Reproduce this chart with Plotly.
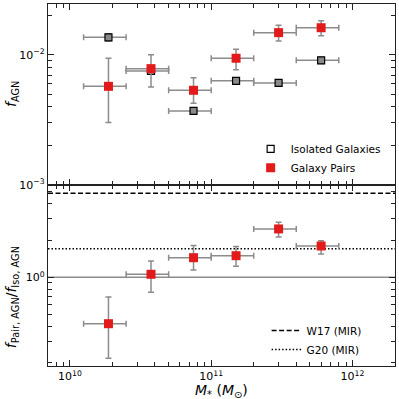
import plotly.graph_objects as go
from plotly.subplots import make_subplots

# stellar mass bins (edges) and centres
bin_lo = [1.25e10, 2.5e10, 5e10, 1e11, 2e11, 4e11]
bin_hi = [2.5e10, 5e10, 1e11, 2e11, 4e11, 8e11]
mass = [1.875e10, 3.75e10, 7.5e10, 1.5e11, 3e11, 6e11]

# AGN fractions
f_iso = [0.01368, 0.00753, 0.00371, 0.00633, 0.0061, 0.0091]
f_iso_err = [0.0009, 0.0004, 0.00015, 0.0003, 0.0003, 0.0005]
f_pair = [0.00574, 0.00785, 0.00535, 0.00944, 0.01485, 0.0162]
f_pair_hi = [0.00944, 0.01005, 0.00668, 0.01107, 0.0169, 0.01836]
f_pair_lo = [0.00303, 0.00567, 0.00425, 0.0077, 0.01282, 0.01407]

# enhancement ratio
ratio = [0.418, 1.058, 1.445, 1.50, 2.48, 1.80]
ratio_hi = [0.69, 1.36, 1.82, 1.78, 2.81, 1.99]
ratio_lo = [0.218, 0.755, 1.147, 1.23, 2.13, 1.55]

# literature values
w17 = 4.85
g20 = 1.71

x_min, x_max = 7e9, 2e12
x_ticks = [1e10, 1e11, 1e12]
x_ticktext = ["10<sup>10</sup>", "10<sup>11</sup>", "10<sup>12</sup>"]
top_ticks = [1e-3, 1e-2]
top_ticktext = ["10<sup>−3</sup>", "10<sup>−2</sup>"]
bot_ticks = [1]
bot_ticktext = ["10<sup>0</sup>"]

xerr_m = [c - lo for c, lo in zip(mass, bin_lo)]
xerr_p = [hi - c for c, hi in zip(mass, bin_hi)]

FONT = "DejaVu Sans"
ERR = "#8c8c8c"
RED = "#e31a1c"

fig = make_subplots(rows=2, cols=1, shared_xaxes=True, vertical_spacing=0)

ex = dict(type="data", symmetric=False, array=xerr_p, arrayminus=xerr_m,
          color=ERR, thickness=1.5, width=3)

fig.add_trace(go.Scatter(
    x=mass, y=f_iso, mode="markers", showlegend=False,
    marker=dict(symbol="square", size=7, color="#8a8a8a",
                line=dict(color="black", width=1.2)),
    error_x=ex,
    error_y=dict(type="data", array=f_iso_err, color=ERR, thickness=1.5, width=3),
), row=1, col=1)

fig.add_trace(go.Scatter(
    x=mass, y=f_pair, mode="markers", showlegend=False,
    marker=dict(symbol="square", size=9, color=RED, line=dict(width=0)),
    error_x=ex,
    error_y=dict(type="data", symmetric=False,
                 array=[h - v for h, v in zip(f_pair_hi, f_pair)],
                 arrayminus=[v - l for v, l in zip(f_pair, f_pair_lo)],
                 color=ERR, thickness=1.5, width=3),
), row=1, col=1)

# legend entries for the top panel
fig.add_trace(go.Scatter(
    x=[None], y=[None], mode="markers", name="Isolated Galaxies", legend="legend",
    marker=dict(symbol="square", size=7, color="white", line=dict(color="black", width=1.2)),
), row=1, col=1)
fig.add_trace(go.Scatter(
    x=[None], y=[None], mode="markers", name="Galaxy Pairs", legend="legend",
    marker=dict(symbol="square", size=9, color=RED),
), row=1, col=1)

# bottom panel
fig.add_trace(go.Scatter(
    x=[x_min, x_max], y=[1, 1], mode="lines", showlegend=False,
    line=dict(color="#8c8c8c", width=1.5),
), row=2, col=1)
fig.add_trace(go.Scatter(
    x=[x_min, x_max], y=[w17, w17], mode="lines", name="W17 (MIR)", legend="legend2",
    line=dict(color="black", width=1.5, dash="5px,2.5px"),
), row=2, col=1)
fig.add_trace(go.Scatter(
    x=[x_min, x_max], y=[g20, g20], mode="lines", name="G20 (MIR)", legend="legend2",
    line=dict(color="black", width=1.5, dash="1.5px,2px"),
), row=2, col=1)
fig.add_trace(go.Scatter(
    x=mass, y=ratio, mode="markers", showlegend=False,
    marker=dict(symbol="square", size=9, color=RED),
    error_x=ex,
    error_y=dict(type="data", symmetric=False,
                 array=[h - v for h, v in zip(ratio_hi, ratio)],
                 arrayminus=[v - l for v, l in zip(ratio, ratio_lo)],
                 color=ERR, thickness=1.5, width=3),
), row=2, col=1)

xminor = [8e9, 9e9] + [k * 1e10 for k in range(2, 10)] + [k * 1e11 for k in range(2, 10)]
axis_common = dict(
    type="log", showline=True, linecolor="#222", linewidth=1.2, mirror="allticks",
    ticks="inside", ticklen=6, tickcolor="#222", tickwidth=1, showgrid=False,
    zeroline=False, automargin=False,
    tickfont=dict(family=FONT, size=11, color="black"),
)

fig.update_xaxes(axis_common, range=[9.845, 12.301],
                 tickvals=x_ticks, ticktext=x_ticktext,
                 minor=dict(tickvals=xminor, ticks="inside", ticklen=3.5, tickcolor="#222"))
fig.update_xaxes(showticklabels=False, row=1, col=1)

fig.update_yaxes(axis_common, row=1, col=1, range=[-3, -1.608],
                 tickvals=top_ticks, ticktext=top_ticktext,
                 minor=dict(tickvals=[k * 1e-3 for k in range(2, 10)] + [2e-2],
                            ticks="inside", ticklen=3.5, tickcolor="#222"))
fig.update_yaxes(axis_common, row=2, col=1, range=[-0.724, 0.753],
                 tickvals=bot_ticks, ticktext=bot_ticktext,
                 minor=dict(tickvals=[0.2, 0.3, 0.4, 0.5, 0.6, 0.7, 0.8, 0.9, 2, 3, 4, 5],
                            ticks="inside", ticklen=3.5, tickcolor="#222"))

# axis titles as annotations so they sit where the original puts them
title_font = dict(family=FONT, size=14, color="black")
fig.add_annotation(text="<i>f</i><sub>AGN</sub>", xref="paper", yref="paper",
                   x=-0.104, y=0.751, xanchor="center", yanchor="middle",
                   textangle=-90, showarrow=False, font=title_font)
fig.add_annotation(text="<i>f</i><sub>Pair, AGN</sub>/<i>f</i><sub>Iso, AGN</sub>",
                   xref="paper", yref="paper", x=-0.104, y=0.19,
                   xanchor="center", yanchor="middle", textangle=-90,
                   showarrow=False, font=title_font)
fig.add_annotation(text="<i>M</i><sub>*</sub> (<i>M</i><sub>⊙</sub>)", xref="paper",
                   yref="paper", x=0.5, y=-0.068, xanchor="center", yanchor="middle",
                   showarrow=False, font=title_font)

fig.update_layout(
    width=399, height=399,
    margin=dict(l=48, r=4, t=4, b=33),
    plot_bgcolor="white", paper_bgcolor="white",
    font=dict(family=FONT, size=11, color="black"),
    legend=dict(x=0.584, y=0.64, xanchor="left", yanchor="top",
                bgcolor="rgba(0,0,0,0)", font=dict(family=FONT, size=10.5),
                tracegroupgap=0, itemwidth=30),
    legend2=dict(x=0.63, y=0.138, xanchor="left", yanchor="top",
                 bgcolor="rgba(0,0,0,0)", font=dict(family=FONT, size=10.5),
                 itemwidth=30),
)

fig.write_html("out.html", config={"displayModeBar": False},
               post_script="document.body.style.margin='0';")
